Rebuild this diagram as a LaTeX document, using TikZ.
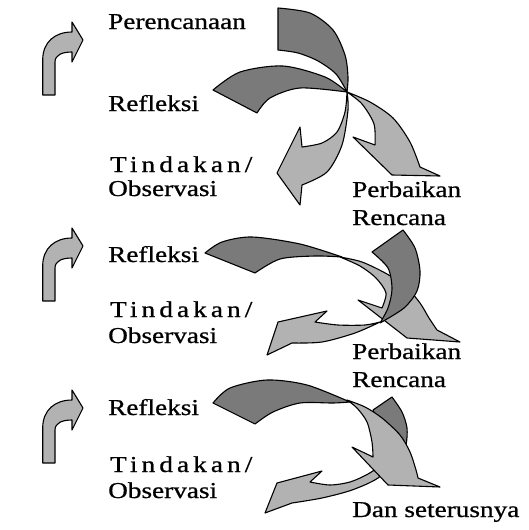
\documentclass[tikz,border=0pt]{standalone}
\usepackage{fontspec}
\setmainfont{Liberation Serif}[FakeStretch=1.2, FakeBold=0.8]
\newfontfamily\spacedserif{Liberation Serif}[FakeStretch=1.2, FakeBold=0.8, LetterSpace=18]
\usepackage{tikz}
\usetikzlibrary{positioning}
\definecolor{clrDark}{gray}{0.48}
\definecolor{clrLight}{gray}{0.7}
\tikzstyle{lbl}=[inner sep=0pt, anchor=base west, font=\fontsize{22.7}{26}\selectfont]
\tikzstyle{lbl_spaced}=[lbl, font=\fontsize{22.7}{26}\selectfont\spacedserif]
\tikzstyle{band}=[draw=black, line width=1.1pt, line join=round]
\tikzstyle{band_dark}=[band, fill=clrDark]
\tikzstyle{band_light}=[band, fill=clrLight]

\begin{document}
\begin{tikzpicture}[x=1pt, y=-1pt]
	\useasboundingbox (0,0) rectangle (529,530);

	% small bent arrows on the left
	\foreach \dy in {0,206,368}{
		\begin{scope}[shift={(0,\dy)}]
			\filldraw[band_light] (42.7,95) -- (42.7,60) .. controls (42.7,42) and (55,32) .. (72,32) -- (72,22) -- (83,40) -- (72,62) -- (72,52) .. controls (62,52) and (55,55) .. (55,62) -- (55,95) -- cycle;
		\end{scope}
	}

	% first cycle
	\filldraw[band_dark] (278,8) -- plot[smooth] coordinates {(278,8) (310,13) (333,30) (345,55) (348,77) (347,92)} -- plot[smooth] coordinates {(347,92) (336,74) (318,61) (298,53) (278,50)} -- cycle;
	\filldraw[band_dark] (213,90) -- plot[smooth] coordinates {(213,90) (240,72) (283,66) (325,77) (347,92)} -- plot[smooth] coordinates {(347,92) (300,88) (270,98) (257,113)} -- cycle;
	\filldraw[band_light] (347,92) -- plot[smooth] coordinates {(347,92) (345,112) (337,132) (322,143) (302,147)} -- (300,127) -- (277,173) -- (300,205) -- (302,185) -- plot[smooth] coordinates {(302,185) (327,172) (342,145) (348,110) (347,92)} -- cycle;
	\filldraw[band_light] (347,92) -- plot[smooth] coordinates {(347,92) (370,102) (393,118) (410,142) (420,167)} -- (440,176) -- (392,175) -- (353,137) -- (375,145) -- plot[smooth] coordinates {(375,145) (374,124) (362,104) (347,92)} -- cycle;

	% second cycle
	\filldraw[band_dark] (205,253) -- plot[smooth] coordinates {(205,253) (222,242) (252,237) (300,244) (342,257)} -- plot[smooth] coordinates {(342,257) (315,256) (280,259) (255,273)} -- cycle;
	\filldraw[band_light] (340,257) -- plot[smooth] coordinates {(340,257) (362,262) (387,274) (406,287) (420,303) (429,318) (437,330)} -- (460,342) -- (407,338) -- (358,300) -- (382,308) -- plot[smooth] coordinates {(382,308) (386,293) (376,278) (360,266) (340,257)} -- cycle;
	\filldraw[band_dark] (372,252) -- (403,230) -- plot[smooth] coordinates {(403,230) (415,248) (420,271) (417,291) (404,308) (380,323)} -- plot[smooth] coordinates {(380,323) (388,308) (392,289) (388,268) (372,252)} -- cycle;
	\filldraw[band_light] (380,322) -- plot[smooth] coordinates {(380,322) (365,325) (338,325) (315,322)} -- (327,311) -- (278,322) -- (267,355) -- (292,343) -- plot[smooth] coordinates {(292,343) (322,342) (355,333) (380,322)} -- cycle;

	% third cycle
	\filldraw[band_dark] (373,410) -- (392,397) -- plot[smooth] coordinates {(392,397) (402,412) (407,428) (406,445) (400,460)} -- (385,440) -- cycle;
	\filldraw[band_dark] (213,403) -- plot[smooth] coordinates {(213,403) (230,388) (267,380) (307,385) (350,402)} -- plot[smooth] coordinates {(350,402) (333,403) (300,403) (273,412) (255,424)} -- cycle;
	\filldraw[band_light] (395,460) -- plot[smooth] coordinates {(395,460) (378,478) (352,490) (322,498) (292,503)} -- (265,513) -- (277,483) -- (322,471) -- (310,482) -- plot[smooth] coordinates {(310,482) (330,485) (350,482) (368,474) (385,463) (395,460)} -- cycle;
	\filldraw[band_light] (347,400) -- plot[smooth] coordinates {(347,400) (365,407) (382,418) (400,435) (410,452) (416,470) (418,478)} -- (440,487) -- (388,485) -- (352,447) -- (373,457) -- plot[smooth] coordinates {(373,457) (372,442) (367,422) (357,408) (347,400)} -- cycle;

	% labels
	\node[lbl] (plan1) at (108,29) {Perencanaan};
	\node[lbl] (refl1) at (108,111) {Refleksi};
	\node[lbl_spaced] (act1) at (110,172) {Tindakan/};
	\node[lbl] (obs1) at (108,196) {Observasi};
	\node[lbl] (perb1) at (352,197) {Perbaikan};
	\node[lbl] (renc1) at (352,225) {Rencana};

	\node[lbl] (refl2) at (108,262) {Refleksi};
	\node[lbl_spaced] (act2) at (110,317) {Tindakan/};
	\node[lbl] (obs2) at (108,343) {Observasi};
	\node[lbl] (perb2) at (352,359) {Perbaikan};
	\node[lbl] (renc2) at (352,387) {Rencana};

	\node[lbl] (refl3) at (108,415) {Refleksi};
	\node[lbl_spaced] (act3) at (110,472) {Tindakan/};
	\node[lbl] (obs3) at (108,498) {Observasi};
	\node[lbl] (next3) at (352,517) {Dan seterusnya};
\end{tikzpicture}
\end{document}
